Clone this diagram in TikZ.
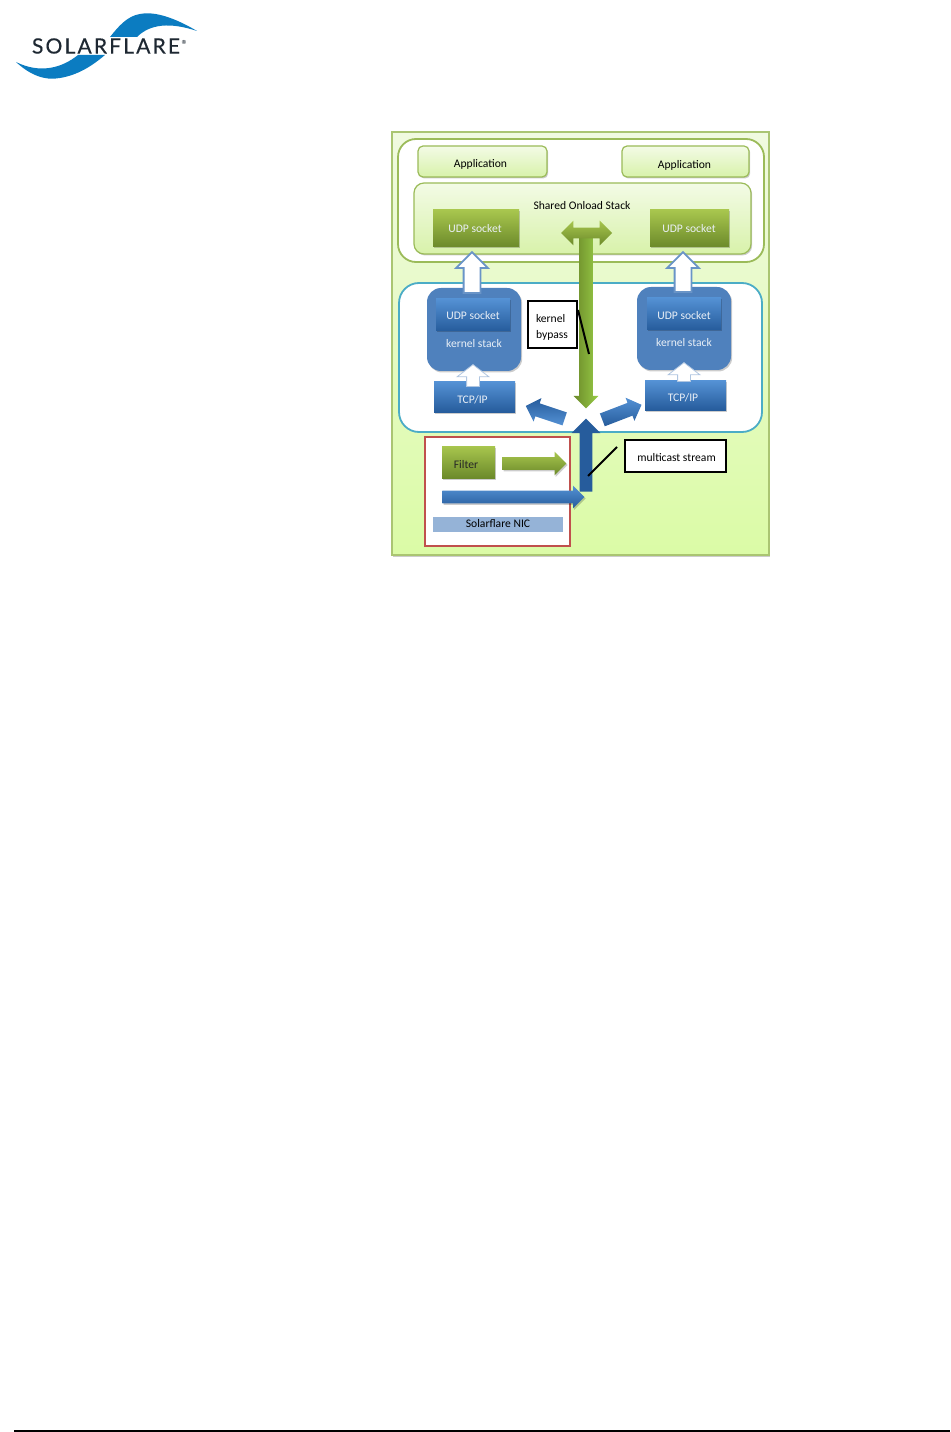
\documentclass[tikz,border=0pt]{standalone}
\usepackage{fontspec}
\setmainfont{Carlito}
\newfontfamily\logofont[LetterSpace=10,FakeBold=0.4]{Lato}
\usepackage{xcolor}
\usetikzlibrary{shapes.arrows, shadows}
\definecolor{SFBlue}{RGB}{11,124,193}
\definecolor{SFInk}{RGB}{30,40,50}
\definecolor{OffGreen}{RGB}{155,187,89}
\definecolor{OffLight}{RGB}{243,251,230}
\definecolor{OffPale}{RGB}{216,242,170}
\definecolor{OffTop}{RGB}{240,250,224}
\definecolor{OffBottom}{RGB}{219,251,166}
\definecolor{OliveTop}{RGB}{168,198,78}
\definecolor{OliveLow}{RGB}{108,138,42}
\definecolor{KernTeal}{RGB}{75,172,198}
\definecolor{KernBlue}{RGB}{79,129,189}
\definecolor{BlueTop}{RGB}{84,145,212}
\definecolor{BlueLow}{RGB}{38,92,156}
\definecolor{NicRed}{RGB}{192,80,77}
\definecolor{NicBar}{RGB}{149,179,215}
\newcommand{\pxu}{0.02cm}
\tikzset{
  softshadow/.style={drop shadow={shadow xshift=1.2*\pxu, shadow yshift=-1.5*\pxu, opacity=0.2, fill=black}},
  panel/.style={inner sep=0pt, font=\fontsize{6.6}{8}\selectfont, text=black},
  appbox/.style={panel, draw=OffGreen, line width=1.2*\pxu, rounded corners=5*\pxu, top color=OffLight, bottom color=OffPale, softshadow},
  oliveblock/.style={panel, top color=OliveTop, bottom color=OliveLow, softshadow},
  blueblock/.style={panel, top color=BlueTop, bottom color=BlueLow, softshadow},
  lighttext/.style={panel, text=white!88!KernBlue},
  callout/.style={panel, draw=black, fill=white, line width=2*\pxu},
  leader/.style={draw=black, line width=2*\pxu},
  blockarrow/.style n args={3}{single arrow, anchor=tail, inner sep=0pt, inner ysep=#1/2*\pxu,
    single arrow head extend=(#2-#1)/2*\pxu, minimum width=#2*\pxu, minimum height=#3*\pxu},
  whitearrow/.style={fill=white, draw=KernBlue!85!white, line width=1.8*\pxu},
  smallarrow/.style={fill=white, draw=KernBlue!45!white, line width=0.8*\pxu, single arrow tip angle=105},
}
\begin{document}
\begin{tikzpicture}[x=0.02cm, y=-0.02cm]
        \useasboundingbox (0,0) rectangle (950,1432);
        % Logo
        \fill[SFBlue] (197,31) .. controls (175,18) and (155,11) .. (140,14)
              .. controls (127,16) and (118,27) .. (110,37) -- (137,37)
              .. controls (150,24) and (170,22) .. cycle;
        \fill[SFBlue] (16,62) .. controls (30,75) and (45,81) .. (60,78)
              .. controls (78,75) and (92,66) .. (105,55) -- (78,55)
              .. controls (62,68) and (40,74) .. cycle;
        \node[inner sep=0pt, text=SFInk, font=\logofont\fontsize{12}{13}\selectfont] (logotext) at (106,46) {SOLARFLARE};
        \node[inner sep=0pt, text=SFInk, font=\fontsize{7.5}{8}\selectfont] (logomark) at (185,45) {®};
        % Page rule
        \coordinate (ruleleft) at (14,1431);
        \coordinate (ruleright) at (950,1431);
        \draw[black, line width=1.6*\pxu] (ruleleft) -- (ruleright);
        % Background
        \node[panel, draw=OffGreen!85!white, line width=1.5*\pxu, top color=OffTop, bottom color=OffBottom, softshadow,
              minimum width=377*\pxu, minimum height=423*\pxu] (back) at (580.5,343.5) {};
        % Onload part
        \node[panel, draw=OffGreen, line width=1.8*\pxu, fill=white, rounded corners=18*\pxu,
              minimum width=366*\pxu, minimum height=123*\pxu] (onload) at (581,200.5) {};
        \node[appbox, minimum width=129*\pxu, minimum height=31*\pxu] (appleft) at (482.5,161.5) {};
        \node[panel] (applefttext) at (480.5,164.5) {Application};
        \node[appbox, minimum width=127*\pxu, minimum height=31*\pxu] (appright) at (685.5,161.5) {};
        \node[panel] (apprighttext) at (684.5,165.5) {Application};
        \node[appbox, rounded corners=10*\pxu, minimum width=337*\pxu, minimum height=71*\pxu] (shared) at (582.5,218.5) {};
        \node[panel] (sharedtext) at (582,206) {Shared Onload Stack};
        \node[oliveblock, minimum width=86*\pxu, minimum height=37*\pxu] (udpleft) at (476,228.5) {};
        \node[lighttext] (udplefttext) at (475,228.5) {UDP socket};
        \node[oliveblock, minimum width=79*\pxu, minimum height=37*\pxu] (udpright) at (689.5,228.5) {};
        \node[lighttext] (udprighttext) at (689,228.5) {UDP socket};
        % Kernel part
        \node[panel, draw=KernTeal, line width=1.8*\pxu, fill=white, rounded corners=20*\pxu,
              minimum width=363*\pxu, minimum height=149*\pxu] (kernel) at (580.5,357.5) {};
        \node[panel, fill=KernBlue, rounded corners=14*\pxu, softshadow, minimum width=94*\pxu, minimum height=83*\pxu] (stackleft) at (474,329.5) {};
        \node[panel, fill=KernBlue, rounded corners=14*\pxu, softshadow, minimum width=94*\pxu, minimum height=83*\pxu] (stackright) at (684,328.5) {};
        \node[lighttext] (stacklefttext) at (474,343.5) {kernel stack};
        \node[lighttext] (stackrighttext) at (684,342.5) {kernel stack};
        \node[blueblock, minimum width=74*\pxu, minimum height=32*\pxu] (sockleft) at (473,315) {};
        \node[lighttext] (socklefttext) at (473,315.5) {UDP socket};
        \node[blueblock, minimum width=74*\pxu, minimum height=32*\pxu] (sockright) at (684,314) {};
        \node[lighttext] (sockrighttext) at (684,315.5) {UDP socket};
        \node[blueblock, minimum width=81*\pxu, minimum height=30*\pxu] (tcpleft) at (474.5,397) {};
        \node[lighttext] (tcplefttext) at (472.5,399.5) {TCP/IP};
        \node[blueblock, minimum width=81*\pxu, minimum height=29*\pxu] (tcpright) at (685.5,395.5) {};
        \node[lighttext] (tcprighttext) at (683,397.5) {TCP/IP};
        % White arrows
        \node[blockarrow={15}{30}{41}, whitearrow, rotate=90] (upleft) at (472,294) {};
        \node[blockarrow={15}{30}{40}, whitearrow, rotate=90] (upright) at (683,293) {};
        \node[blockarrow={12}{31}{22}, smallarrow, rotate=90] (smallleft) at (473,387) {};
        \node[blockarrow={12}{31}{19}, smallarrow, rotate=90] (smallright) at (684,382) {};
        % NIC
        \node[panel, draw=NicRed, line width=1.8*\pxu, fill=white, minimum width=145*\pxu, minimum height=109*\pxu] (nic) at (497.5,491.5) {};
        \node[oliveblock, minimum width=53*\pxu, minimum height=32*\pxu] (filter) at (468.5,462) {};
        \node[panel, text=black!85] (filtertext) at (466,464.5) {Filter};
        \node[panel, fill=NicBar, minimum width=130*\pxu, minimum height=15*\pxu] (nicbar) at (498,524.5) {};
        \node[panel] (nictext) at (498,523.5) {Solarflare NIC};
        \node[blockarrow={12}{23}{64}, softshadow, top color=OliveTop, bottom color=OliveLow] (filterarrow) at (502,463.5) {};
        % Traffic arrows
        \node[blockarrow={13}{24}{172}, rotate=-90, left color=OliveLow, right color=OliveTop!90!green] (bypassarrow) at (586,236) {};
        \node[double arrow, inner sep=0pt, inner ysep=5*\pxu, double arrow head extend=7*\pxu,
              minimum width=24*\pxu, minimum height=51*\pxu, top color=OliveTop, bottom color=OliveLow] (sharedarrow) at (586.5,233) {};
        \node[blockarrow={12}{28}{73}, rotate=90, top color=BlueLow, middle color=KernBlue, bottom color=BlueLow] (streamup) at (586,492) {};
        \node[blockarrow={12}{22}{142}, top color=BlueTop, bottom color=BlueLow, softshadow] (streamin) at (442,497) {};
        \node[blockarrow={13}{24}{41}, rotate=161.6, top color=BlueLow, bottom color=BlueTop] (fanleft) at (565,419) {};
        \node[blockarrow={13}{24}{42}, rotate=21, top color=BlueTop, bottom color=BlueLow] (fanright) at (602,420) {};
        % Callouts
        \node[callout, minimum width=49*\pxu, minimum height=47*\pxu] (bypassbox) at (552.5,324.5) {};
        \node[panel, align=left] (bypasstext) at (552,327.5) {kernel\\[1.5pt]bypass};
        \node[callout, minimum width=101*\pxu, minimum height=32*\pxu] (streambox) at (675.5,456) {};
        \node[panel] (streamtext) at (676.5,458) {multicast stream};
        \coordinate (bypassstart) at (578,310);
        \coordinate (bypassend) at (589,354);
        \coordinate (streamstart) at (617,447);
        \coordinate (streamend) at (588,476);
        \draw[leader] (bypassstart) -- (bypassend);
        \draw[leader] (streamstart) -- (streamend);
      \end{tikzpicture}
\end{document}
